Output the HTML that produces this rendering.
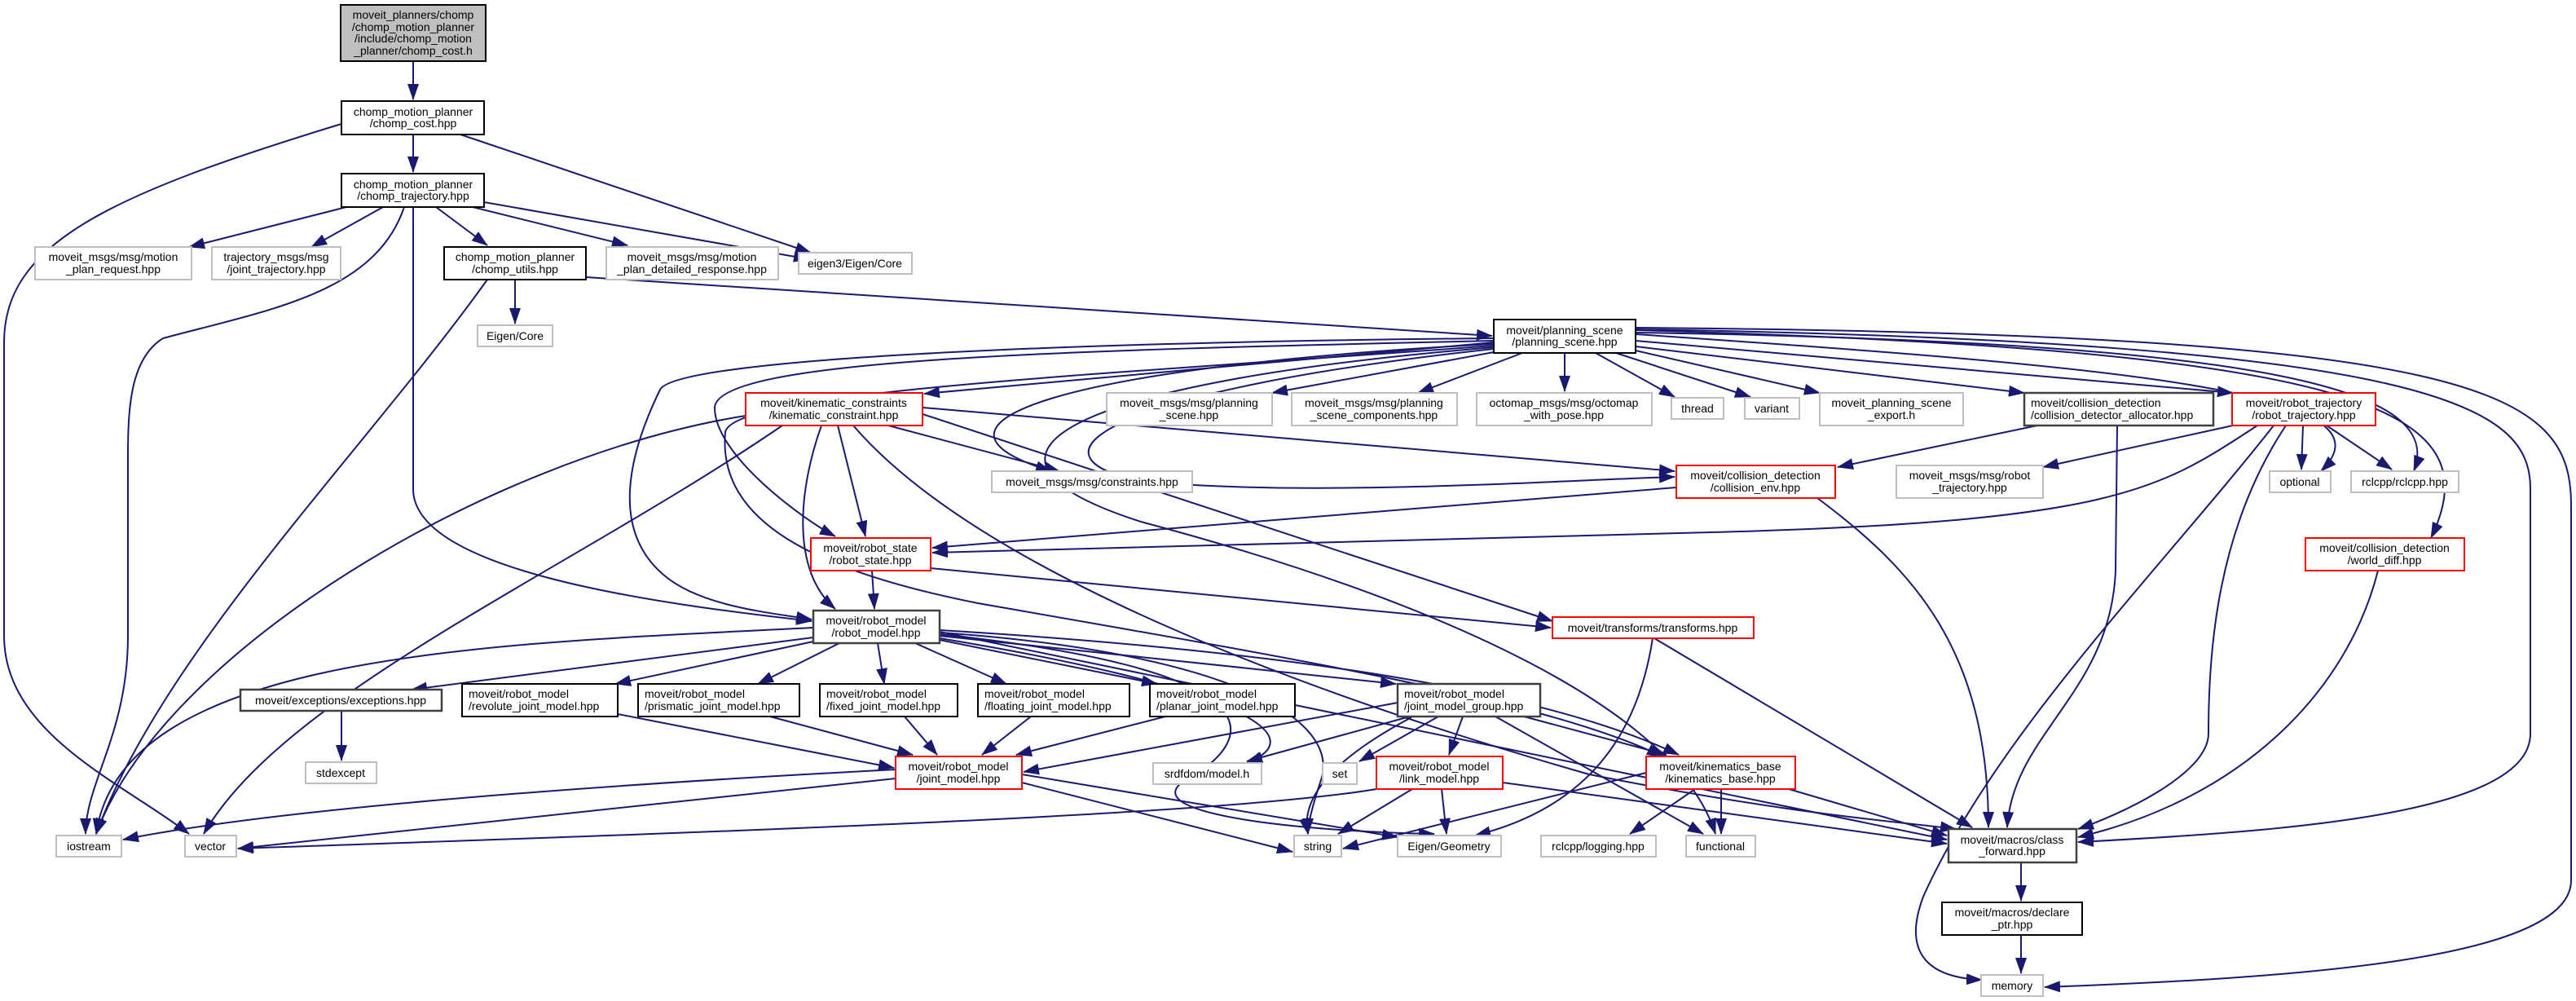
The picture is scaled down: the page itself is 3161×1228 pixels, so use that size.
<!DOCTYPE html>
<html><head><meta charset="utf-8"><style>
html,body{margin:0;padding:0;background:#fff;}
svg{display:block;}
text{font-family:"Liberation Sans",sans-serif;font-size:14px;fill:#000;}
.e{fill:none;stroke:#191970;stroke-width:2;marker-end:url(#a);}
.g{fill:#fff;stroke:#bfbfbf;stroke-width:2;}
.b{fill:#fff;stroke:#000;stroke-width:2;}
.d{fill:#fff;stroke:#404040;stroke-width:2.5;}
.r{fill:#fff;stroke:#ff0000;stroke-width:2;}
</style></head><body>
<svg width="3161" height="1228" viewBox="0 0 3161 1228" xmlns="http://www.w3.org/2000/svg">
<defs><marker id="a" markerUnits="userSpaceOnUse" markerWidth="20" markerHeight="14" refX="19" refY="7" orient="auto"><path d="M0,0 L20,7 L0,14 z" fill="#191970"/></marker></defs>

<path class="e" d="M507,75 L507,122"/>
<path class="e" d="M507,165 L507,211"/>
<path class="e" d="M419,152 C130,240 5,300 5,420 L5,780 C5,900 150,960 232,1023"/>
<path class="e" d="M565,165 L995,310"/>
<path class="e" d="M425,254 L232,303"/>
<path class="e" d="M470,254 L382,303"/>
<path class="e" d="M496,254 C460,360 330,380 200,415 C160,440 157,500 157,560 L157,780 C157,900 105,960 105,1023"/>
<path class="e" d="M507,254 L507,600 C507,700 800,740 996,762"/>
<path class="e" d="M535,254 L598,301"/>
<path class="e" d="M580,254 L770,301"/>
<path class="e" d="M594,248 L993,318"/>
<path class="e" d="M598,343 C450,550 200,800 118,1023"/>
<path class="e" d="M632,343 L632,397"/>
<path class="e" d="M719,340 L1831,412"/>

<path class="e" d="M1833,420 L1134,483"/>
<path class="e" d="M1833,432 L1561,482"/>
<path class="e" d="M1868,433 L1740,482"/>
<path class="e" d="M1920,433 L1920,480"/>
<path class="e" d="M1958,433 L2055,487"/>
<path class="e" d="M1983,433 L2148,487"/>
<path class="e" d="M2007,430 L2233,482"/>
<path class="e" d="M2007,425 L2484,482"/>
<path class="e" d="M2007,418 L2740,482"/>
<path class="e" d="M2007,410 C2600,450 2950,480 2848,578"/>
<path class="e" d="M2007,408 C2800,420 3000,480 2962,578"/>
<path class="e" d="M2007,405 C2900,430 3060,500 2983,660"/>
<path class="e" d="M2007,404 C3000,420 3105,500 3105,600 L3105,900 C3105,1000 2800,1020 2550,1033"/>
<path class="e" d="M2007,402 C3050,410 3155,480 3155,620 L3155,1080 C3155,1180 2800,1200 2509,1211"/>
<path class="e" d="M1833,422 C1300,450 1100,520 1290,578"/>
<path class="e" d="M1833,418 C1300,430 880,440 877,500 C877,560 990,640 1025,658"/>
<path class="e" d="M1833,415 C1300,420 830,440 810,478 C770,560 750,650 814,705 C860,745 950,752 996,760"/>
<path class="e" d="M1833,424 C1350,460 900,480 890,530 C880,640 1000,700 1200,740 C1600,810 1900,860 2040,928"/>
<path class="e" d="M1833,426 C1300,470 1150,560 1400,640 C1700,720 2050,850 2105,1023"/>
<path class="e" d="M1833,428 C1350,480 1250,560 1400,590 C1600,610 1900,590 2055,585"/>

<path class="e" d="M915,510 C600,560 200,800 118,1023"/>
<path class="e" d="M960,522 C700,700 350,850 250,1023"/>
<path class="e" d="M1008,522 C980,600 970,700 1025,747"/>
<path class="e" d="M1028,522 L1062,658"/>
<path class="e" d="M1090,522 L1300,578"/>
<path class="e" d="M1132,508 L1905,762"/>
<path class="e" d="M1132,500 L2055,578"/>
<path class="e" d="M1047,522 C1200,700 1600,850 1950,950 C2200,1000 2350,1010 2400,1017"/>

<path class="e" d="M2057,598 L1144,672"/>
<path class="e" d="M2230,611 C2350,700 2440,800 2440,1015"/>
<path class="e" d="M2500,522 L2255,573"/>
<path class="e" d="M2598,522 L2596,700 C2590,850 2470,900 2463,1015"/>
<path class="e" d="M2740,522 L2507,573"/>
<path class="e" d="M2770,522 C2650,600 2600,640 2100,653 C1700,665 1300,672 1144,678"/>
<path class="e" d="M2826,522 L2824,576"/>
<path class="e" d="M2855,522 L2935,576"/>
<path class="e" d="M2790,522 C2650,700 2450,900 2360,1100 C2330,1180 2380,1200 2432,1202"/>
<path class="e" d="M2805,522 C2720,650 2710,800 2710,900 C2710,950 2600,1000 2550,1017"/>
<path class="e" d="M2918,700 C2880,850 2750,980 2550,1027"/>
<path class="e" d="M2030,783 L2420,1015"/>
<path class="e" d="M2028,783 C2010,900 1950,990 1810,1025"/>
<path class="e" d="M1070,700 L1073,747"/>
<path class="e" d="M1142,697 L1903,770"/>

<path class="e" d="M998,782 L505,846"/>
<path class="e" d="M998,787 L755,839"/>
<path class="e" d="M1030,789 L930,839"/>
<path class="e" d="M1077,789 L1085,839"/>
<path class="e" d="M1123,789 L1235,839"/>
<path class="e" d="M1153,785 L1420,839"/>
<path class="e" d="M1153,780 L1713,839"/>
<path class="e" d="M998,770 C600,790 150,800 118,1023"/>
<path class="e" d="M1153,783 C1500,840 1620,900 1530,936"/>
<path class="e" d="M1153,778 C1550,820 1560,900 1450,960 C1400,1000 1600,1020 1760,1023"/>
<path class="e" d="M1153,776 C1500,800 1650,880 1620,960 C1610,990 1605,1010 1605,1023"/>
<path class="e" d="M1153,775 L2389,1030"/>
<path class="e" d="M1153,773 C1600,800 1900,850 2060,926"/>
<path class="e" d="M758,876 L1097,942"/>
<path class="e" d="M945,879 L1120,926"/>
<path class="e" d="M1110,879 L1150,926"/>
<path class="e" d="M1265,879 L1205,926"/>
<path class="e" d="M1430,879 L1247,926"/>
<path class="e" d="M1715,862 L1256,947"/>
<path class="e" d="M1099,944 C600,970 300,1000 151,1030"/>
<path class="e" d="M1099,955 L292,1041"/>
<path class="e" d="M1254,960 L1586,1045"/>
<path class="e" d="M1254,950 L1715,1027"/>
<path class="e" d="M1689,968 C1500,1000 900,1020 292,1041"/>
<path class="e" d="M1733,968 L1642,1023"/>
<path class="e" d="M1769,968 L1775,1023"/>
<path class="e" d="M1844,960 L2389,1035"/>
<path class="e" d="M1732,880 C1600,950 1600,1000 1605,1023"/>
<path class="e" d="M1765,879 L1668,934"/>
<path class="e" d="M1795,879 L1778,926"/>
<path class="e" d="M1835,879 L2090,1023"/>
<path class="e" d="M1870,879 L2045,926"/>
<path class="e" d="M1730,879 L1530,934"/>
<path class="e" d="M2020,948 L1648,1041"/>
<path class="e" d="M2080,968 L2000,1023"/>
<path class="e" d="M2112,968 L2112,1023"/>
<path class="e" d="M2195,968 L2389,1025"/>
<path class="e" d="M2480,1058 L2480,1105"/>
<path class="e" d="M2480,1147 L2480,1194"/>
<path class="e" d="M419,872 L419,933"/>

<rect x="418" y="6" width="178" height="69" fill="#bfbfbf" stroke="#000" stroke-width="2"/>
<text x="507" y="23" text-anchor="middle">moveit_planners/chomp</text>
<text x="507" y="38" text-anchor="middle">/chomp_motion_planner</text>
<text x="507" y="52" text-anchor="middle">/include/chomp_motion</text>
<text x="507" y="67" text-anchor="middle">_planner/chomp_cost.h</text>

<rect class="b" x="419" y="124" width="175" height="41"/>
<text x="507" y="142" text-anchor="middle">chomp_motion_planner</text>
<text x="507" y="156" text-anchor="middle">/chomp_cost.hpp</text>

<rect class="b" x="419" y="213" width="175" height="41"/>
<text x="507" y="231" text-anchor="middle">chomp_motion_planner</text>
<text x="507" y="245" text-anchor="middle">/chomp_trajectory.hpp</text>

<rect class="g" x="43" y="303" width="192" height="40"/>
<text x="139" y="320" text-anchor="middle">moveit_msgs/msg/motion</text>
<text x="139" y="335" text-anchor="middle">_plan_request.hpp</text>

<rect class="g" x="260" y="303" width="158" height="40"/>
<text x="339" y="320" text-anchor="middle">trajectory_msgs/msg</text>
<text x="339" y="335" text-anchor="middle">/joint_trajectory.hpp</text>

<rect class="b" x="545" y="303" width="174" height="40"/>
<text x="632" y="320" text-anchor="middle">chomp_motion_planner</text>
<text x="632" y="335" text-anchor="middle">/chomp_utils.hpp</text>

<rect class="g" x="744" y="303" width="211" height="40"/>
<text x="849" y="320" text-anchor="middle">moveit_msgs/msg/motion</text>
<text x="849" y="335" text-anchor="middle">_plan_detailed_response.hpp</text>

<rect class="g" x="980" y="310" width="139" height="26"/>
<text x="1049" y="328" text-anchor="middle">eigen3/Eigen/Core</text>

<rect class="g" x="586" y="399" width="92" height="26"/>
<text x="632" y="417" text-anchor="middle">Eigen/Core</text>

<rect class="b" x="1833" y="392" width="174" height="41"/>
<text x="1920" y="410" text-anchor="middle">moveit/planning_scene</text>
<text x="1920" y="424" text-anchor="middle">/planning_scene.hpp</text>

<rect class="r" x="915" y="482" width="217" height="40"/>
<text x="1023" y="499" text-anchor="middle">moveit/kinematic_constraints</text>
<text x="1023" y="514" text-anchor="middle">/kinematic_constraint.hpp</text>

<rect class="g" x="1358" y="482" width="203" height="40"/>
<text x="1459" y="499" text-anchor="middle">moveit_msgs/msg/planning</text>
<text x="1459" y="514" text-anchor="middle">_scene.hpp</text>

<rect class="g" x="1585" y="482" width="203" height="40"/>
<text x="1686" y="499" text-anchor="middle">moveit_msgs/msg/planning</text>
<text x="1686" y="514" text-anchor="middle">_scene_components.hpp</text>

<rect class="g" x="1812" y="482" width="215" height="40"/>
<text x="1919" y="499" text-anchor="middle">octomap_msgs/msg/octomap</text>
<text x="1919" y="514" text-anchor="middle">_with_pose.hpp</text>

<rect class="g" x="2051" y="488" width="64" height="26"/>
<text x="2083" y="506" text-anchor="middle">thread</text>

<rect class="g" x="2141" y="488" width="67" height="26"/>
<text x="2174" y="506" text-anchor="middle">variant</text>

<rect class="g" x="2233" y="482" width="176" height="40"/>
<text x="2321" y="499" text-anchor="middle">moveit_planning_scene</text>
<text x="2321" y="514" text-anchor="middle">_export.h</text>

<rect class="d" x="2484" y="482" width="232" height="40"/>
<text x="2492" y="499">moveit/collision_detection</text>
<text x="2492" y="514">/collision_detector_allocator.hpp</text>

<rect class="r" x="2739" y="482" width="176" height="40"/>
<text x="2827" y="499" text-anchor="middle">moveit/robot_trajectory</text>
<text x="2827" y="514" text-anchor="middle">/robot_trajectory.hpp</text>

<rect class="r" x="2057" y="571" width="195" height="40"/>
<text x="2154" y="588" text-anchor="middle">moveit/collision_detection</text>
<text x="2154" y="603" text-anchor="middle">/collision_env.hpp</text>

<rect class="g" x="2327" y="571" width="180" height="40"/>
<text x="2417" y="588" text-anchor="middle">moveit_msgs/msg/robot</text>
<text x="2417" y="603" text-anchor="middle">_trajectory.hpp</text>

<rect class="g" x="2785" y="578" width="75" height="26"/>
<text x="2822" y="596" text-anchor="middle">optional</text>

<rect class="g" x="2885" y="578" width="132" height="26"/>
<text x="2951" y="596" text-anchor="middle">rclcpp/rclcpp.hpp</text>

<rect class="r" x="2829" y="660" width="195" height="40"/>
<text x="2926" y="677" text-anchor="middle">moveit/collision_detection</text>
<text x="2926" y="692" text-anchor="middle">/world_diff.hpp</text>

<rect class="g" x="1217" y="578" width="246" height="26"/>
<text x="1340" y="596" text-anchor="middle">moveit_msgs/msg/constraints.hpp</text>

<rect class="r" x="995" y="660" width="147" height="40"/>
<text x="1068" y="677" text-anchor="middle">moveit/robot_state</text>
<text x="1068" y="692" text-anchor="middle">/robot_state.hpp</text>

<rect class="d" x="998" y="749" width="155" height="40"/>
<text x="1075" y="766" text-anchor="middle">moveit/robot_model</text>
<text x="1075" y="781" text-anchor="middle">/robot_model.hpp</text>

<rect class="r" x="1905" y="757" width="247" height="26"/>
<text x="2028" y="775" text-anchor="middle">moveit/transforms/transforms.hpp</text>

<rect class="d" x="295" y="846" width="247" height="26"/>
<text x="418" y="864" text-anchor="middle">moveit/exceptions/exceptions.hpp</text>

<rect class="g" x="375" y="935" width="87" height="26"/>
<text x="418" y="953" text-anchor="middle">stdexcept</text>

<rect class="b" x="567" y="839" width="191" height="40"/>
<text x="575" y="856">moveit/robot_model</text>
<text x="575" y="871">/revolute_joint_model.hpp</text>

<rect class="b" x="783" y="839" width="198" height="40"/>
<text x="791" y="856">moveit/robot_model</text>
<text x="791" y="871">/prismatic_joint_model.hpp</text>

<rect class="b" x="1006" y="839" width="169" height="40"/>
<text x="1014" y="856">moveit/robot_model</text>
<text x="1014" y="871">/fixed_joint_model.hpp</text>

<rect class="b" x="1200" y="839" width="186" height="40"/>
<text x="1208" y="856">moveit/robot_model</text>
<text x="1208" y="871">/floating_joint_model.hpp</text>

<rect class="b" x="1411" y="839" width="178" height="40"/>
<text x="1419" y="856">moveit/robot_model</text>
<text x="1419" y="871">/planar_joint_model.hpp</text>

<rect class="d" x="1715" y="839" width="175" height="40"/>
<text x="1723" y="856">moveit/robot_model</text>
<text x="1723" y="871">/joint_model_group.hpp</text>

<rect class="r" x="1099" y="928" width="155" height="40"/>
<text x="1176" y="945" text-anchor="middle">moveit/robot_model</text>
<text x="1176" y="960" text-anchor="middle">/joint_model.hpp</text>

<rect class="g" x="1415" y="936" width="133" height="26"/>
<text x="1481" y="954" text-anchor="middle">srdfdom/model.h</text>

<rect class="g" x="1623" y="936" width="42" height="26"/>
<text x="1644" y="954" text-anchor="middle">set</text>

<rect class="r" x="1689" y="928" width="155" height="40"/>
<text x="1766" y="945" text-anchor="middle">moveit/robot_model</text>
<text x="1766" y="960" text-anchor="middle">/link_model.hpp</text>

<rect class="r" x="2020" y="928" width="183" height="40"/>
<text x="2111" y="945" text-anchor="middle">moveit/kinematics_base</text>
<text x="2111" y="960" text-anchor="middle">/kinematics_base.hpp</text>

<rect class="g" x="69" y="1025" width="80" height="26"/>
<text x="109" y="1043" text-anchor="middle">iostream</text>

<rect class="g" x="227" y="1025" width="63" height="26"/>
<text x="258" y="1043" text-anchor="middle">vector</text>

<rect class="g" x="1588" y="1025" width="58" height="26"/>
<text x="1617" y="1043" text-anchor="middle">string</text>

<rect class="g" x="1715" y="1025" width="127" height="26"/>
<text x="1778" y="1043" text-anchor="middle">Eigen/Geometry</text>

<rect class="g" x="1891" y="1025" width="141" height="26"/>
<text x="1961" y="1043" text-anchor="middle">rclcpp/logging.hpp</text>

<rect class="g" x="2069" y="1025" width="85" height="26"/>
<text x="2111" y="1043" text-anchor="middle">functional</text>

<rect class="d" x="2391" y="1017" width="157" height="41"/>
<text x="2469" y="1035" text-anchor="middle">moveit/macros/class</text>
<text x="2469" y="1049" text-anchor="middle">_forward.hpp</text>

<rect class="b" x="2383" y="1107" width="172" height="40"/>
<text x="2469" y="1124" text-anchor="middle">moveit/macros/declare</text>
<text x="2469" y="1139" text-anchor="middle">_ptr.hpp</text>

<rect class="g" x="2431" y="1196" width="76" height="26"/>
<text x="2469" y="1214" text-anchor="middle">memory</text>
</svg>
</body></html>
